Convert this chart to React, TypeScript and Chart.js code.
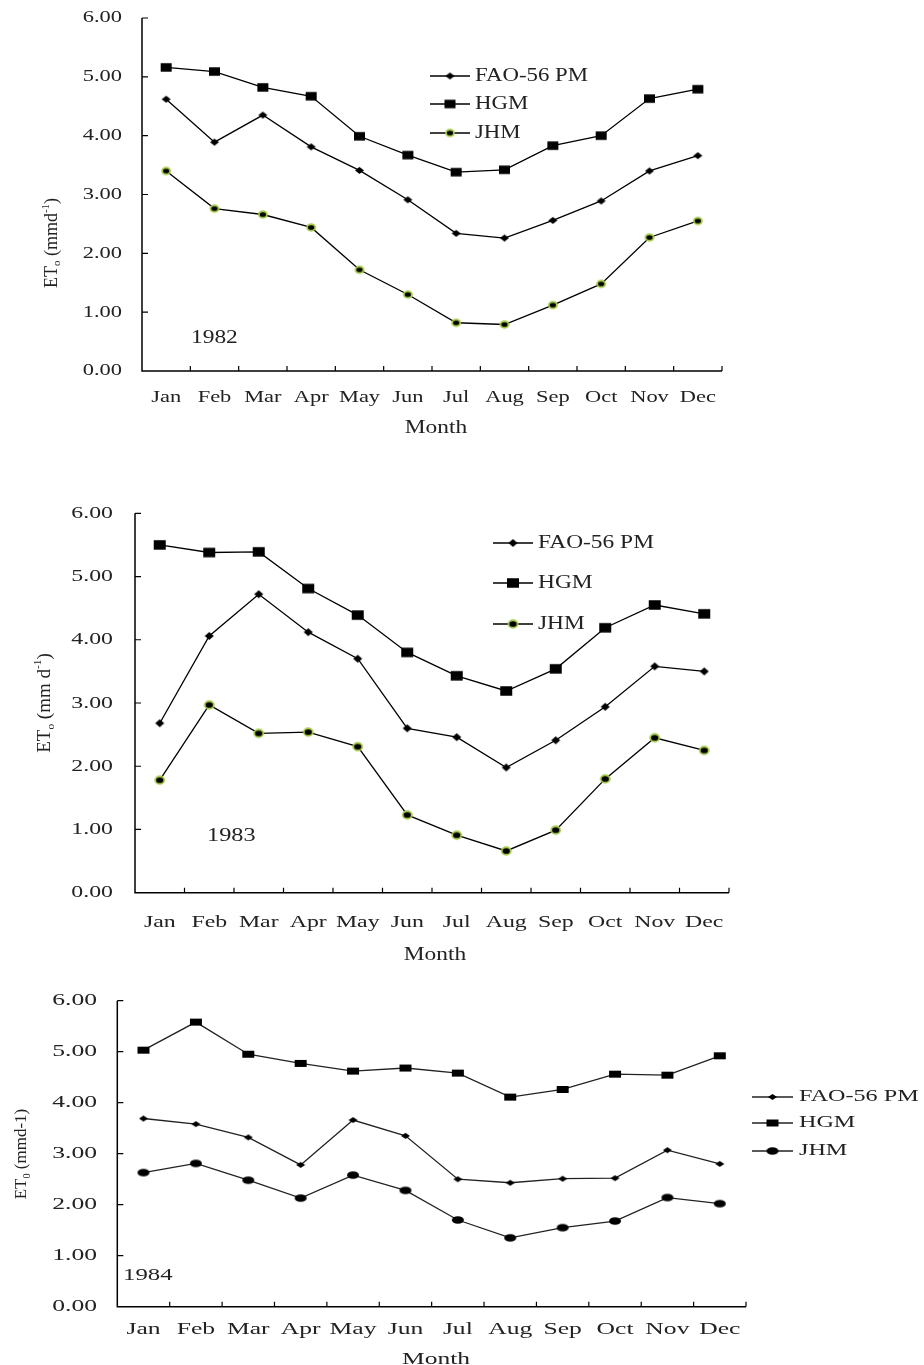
import { useEffect, useRef } from 'react';
import { Chart, registerables } from 'chart.js';

Chart.register(...registerables);

// ---------- data ----------
const MONTHS = ['Jan', 'Feb', 'Mar', 'Apr', 'May', 'Jun', 'Jul', 'Aug', 'Sep', 'Oct', 'Nov', 'Dec'];
const SERIES_LABELS = ['FAO-56 PM', 'HGM', 'JHM'];
const Y_MIN = 0;
const Y_MAX = 6;
const Y_STEP = 1;
const X_TITLE = 'Month';

const FAO_1982 = [4.62, 3.89, 4.35, 3.81, 3.41, 2.91, 2.34, 2.26, 2.56, 2.89, 3.40, 3.66];
const HGM_1982 = [5.16, 5.09, 4.82, 4.67, 3.99, 3.67, 3.38, 3.42, 3.83, 4.00, 4.63, 4.79];
const JHM_1982 = [3.40, 2.76, 2.66, 2.44, 1.72, 1.30, 0.82, 0.79, 1.12, 1.48, 2.27, 2.55];

const FAO_1983 = [2.68, 4.06, 4.72, 4.12, 3.70, 2.60, 2.46, 1.98, 2.41, 2.94, 3.58, 3.50];
const HGM_1983 = [5.50, 5.38, 5.39, 4.81, 4.39, 3.80, 3.43, 3.19, 3.54, 4.19, 4.55, 4.41];
const JHM_1983 = [1.78, 2.97, 2.52, 2.54, 2.31, 1.23, 0.91, 0.66, 0.99, 1.80, 2.45, 2.25];

const FAO_1984 = [3.69, 3.58, 3.32, 2.78, 3.66, 3.35, 2.50, 2.43, 2.51, 2.52, 3.07, 2.80];
const HGM_1984 = [5.03, 5.58, 4.95, 4.77, 4.62, 4.68, 4.58, 4.11, 4.26, 4.56, 4.54, 4.92];
const JHM_1984 = [2.63, 2.81, 2.48, 2.13, 2.58, 2.28, 1.70, 1.35, 1.55, 1.68, 2.14, 2.02];

const FONT = "'Liberation Serif', 'Times New Roman', serif";
const PAGE_W = 924;

type Part = { t: string; s: number; dy: number };
type MarkerSpec = { kind: 'square' | 'diamond' | 'circle'; w: number; h: number; ring?: string };

interface Cfg {
  year: string;
  series: number[][];
  top: number;
  height: number;
  plot: { l: number; t: number; r: number; b: number };
  lineColor: string;
  textColor: string;
  tickFont: number;
  tickScale: number;
  yLabelRight: number;
  xLabelY: number;
  monthX: number;
  monthY: number;
  monthFont: number;
  monthScale: number;
  yearPos: { x: number; y: number; font: number; scale: number };
  legend: { x1: number; x2: number; textX: number; ys: number[]; font: number; scale: number };
  title: { x: number; y: number; font: number; parts: Part[] };
  markers: MarkerSpec[];
}

const GREEN = '#a4c94a';

const CHARTS: Cfg[] = [
  {
    year: '1982',
    series: [FAO_1982, HGM_1982, JHM_1982],
    top: 0,
    height: 470,
    plot: { l: 142, t: 18, r: 722, b: 371 },
    lineColor: '#000',
    textColor: '#222',
    tickFont: 17,
    tickScale: 1.32,
    yLabelRight: 122,
    xLabelY: 398,
    monthX: 436,
    monthY: 428,
    monthFont: 18,
    monthScale: 1.3,
    yearPos: { x: 191, y: 338, font: 18, scale: 1.3 },
    legend: { x1: 430, x2: 470, textX: 475, ys: [76, 104, 133], font: 19, scale: 1.2 },
    title: {
      x: 52, y: 243, font: 18,
      parts: [
        { t: 'ET', s: 1, dy: 0 },
        { t: 'o', s: 0.6, dy: 0.3 },
        { t: ' (mmd', s: 1, dy: 0 },
        { t: '-1', s: 0.6, dy: -0.35 },
        { t: ')', s: 1, dy: 0 },
      ],
    },
    markers: [
      { kind: 'diamond', w: 9, h: 7 },
      { kind: 'square', w: 11, h: 8.5 },
      { kind: 'circle', w: 8, h: 6.5, ring: GREEN },
    ],
  },
  {
    year: '1983',
    series: [FAO_1983, HGM_1983, JHM_1983],
    top: 490,
    height: 480,
    plot: { l: 135, t: 513.3, r: 729, b: 892.7 },
    lineColor: '#000',
    textColor: '#222',
    tickFont: 17.5,
    tickScale: 1.36,
    yLabelRight: 113,
    xLabelY: 922,
    monthX: 435,
    monthY: 955,
    monthFont: 18,
    monthScale: 1.3,
    yearPos: { x: 207, y: 836, font: 18, scale: 1.35 },
    legend: { x1: 493, x2: 533, textX: 538, ys: [543, 583, 624], font: 19.5, scale: 1.2 },
    title: {
      x: 45, y: 703, font: 19,
      parts: [
        { t: 'ET', s: 1, dy: 0 },
        { t: 'o', s: 0.6, dy: 0.3 },
        { t: ' (mm d', s: 1, dy: 0 },
        { t: '-1', s: 0.6, dy: -0.35 },
        { t: ')', s: 1, dy: 0 },
      ],
    },
    markers: [
      { kind: 'diamond', w: 9, h: 8 },
      { kind: 'square', w: 12, h: 9.5 },
      { kind: 'circle', w: 9, h: 7.5, ring: GREEN },
    ],
  },
  {
    year: '1984',
    series: [FAO_1984, HGM_1984, JHM_1984],
    top: 975,
    height: 390,
    plot: { l: 117.3, t: 1000.7, r: 746, b: 1306.7 },
    lineColor: '#222',
    textColor: '#222',
    tickFont: 16,
    tickScale: 1.6,
    yLabelRight: 97,
    xLabelY: 1330,
    monthX: 436,
    monthY: 1360,
    monthFont: 17,
    monthScale: 1.5,
    yearPos: { x: 123, y: 1276, font: 16, scale: 1.55 },
    legend: { x1: 752, x2: 793, textX: 799, ys: [1097, 1123, 1151], font: 17, scale: 1.42 },
    title: {
      x: 22, y: 1154, font: 17,
      parts: [
        { t: 'ET', s: 1, dy: 0 },
        { t: '0', s: 0.6, dy: 0.3 },
        { t: ' (mmd-1)', s: 1, dy: 0 },
      ],
    },
    markers: [
      { kind: 'diamond', w: 9, h: 6 },
      { kind: 'square', w: 12, h: 7 },
      { kind: 'circle', w: 12, h: 7.5 },
    ],
  },
];

function makeMarker(m: MarkerSpec): HTMLCanvasElement {
  const pad = 2;
  const c = document.createElement('canvas');
  c.width = Math.ceil(m.w + pad * 2);
  c.height = Math.ceil(m.h + pad * 2);
  const ctx = c.getContext('2d') as CanvasRenderingContext2D;
  const cx = c.width / 2;
  const cy = c.height / 2;
  ctx.fillStyle = '#000';
  if (m.kind === 'square') {
    ctx.fillRect(cx - m.w / 2, cy - m.h / 2, m.w, m.h);
  } else if (m.kind === 'diamond') {
    ctx.beginPath();
    ctx.moveTo(cx, cy - m.h / 2);
    ctx.lineTo(cx + m.w / 2, cy);
    ctx.lineTo(cx, cy + m.h / 2);
    ctx.lineTo(cx - m.w / 2, cy);
    ctx.closePath();
    ctx.fill();
  } else {
    ctx.beginPath();
    ctx.ellipse(cx, cy, m.w / 2, m.h / 2, 0, 0, Math.PI * 2);
    ctx.fill();
    if (m.ring) {
      ctx.lineWidth = 1.8;
      ctx.strokeStyle = m.ring;
      ctx.stroke();
    }
  }
  return c;
}

function drawText(
  ctx: CanvasRenderingContext2D,
  text: string,
  x: number,
  y: number,
  size: number,
  sx: number,
  align: 'left' | 'center' | 'right',
  color: string,
) {
  ctx.save();
  ctx.font = `${size}px ${FONT}`;
  ctx.fillStyle = color;
  ctx.textBaseline = 'middle';
  ctx.textAlign = 'left';
  const w = ctx.measureText(text).width * sx;
  let left = x;
  if (align === 'center') left = x - w / 2;
  else if (align === 'right') left = x - w;
  ctx.translate(left, y);
  ctx.scale(sx, 1);
  ctx.fillText(text, 0, 0);
  ctx.restore();
}

function EtChart({ cfg }: { cfg: Cfg }) {
  const ref = useRef<HTMLCanvasElement | null>(null);

  useEffect(() => {
    const canvas = ref.current;
    if (!canvas) return;
    const markers = cfg.markers.map(makeMarker);
    const off = cfg.top;

    const decor = {
      id: 'decor',
      beforeDatasetsDraw(chart: any) {
        const ctx: CanvasRenderingContext2D = chart.ctx;
        const a = chart.chartArea;
        const xs = chart.scales.x;
        const ys = chart.scales.y;
        ctx.save();
        ctx.strokeStyle = '#000';
        ctx.lineWidth = 1.5;
        ctx.beginPath();
        ctx.moveTo(a.left, a.top);
        ctx.lineTo(a.left, a.bottom);
        ctx.lineTo(a.right, a.bottom);
        ctx.stroke();
        ctx.lineWidth = 1.2;
        ctx.beginPath();
        ys.ticks.forEach((t: any) => {
          const y = ys.getPixelForValue(t.value);
          if (t.value === Y_MIN) return;
          ctx.moveTo(a.left, y);
          ctx.lineTo(a.left + 6, y);
        });
        for (let i = 0; i < MONTHS.length; i++) {
          const x = i < MONTHS.length - 1
            ? (xs.getPixelForValue(i) + xs.getPixelForValue(i + 1)) / 2
            : a.right;
          ctx.moveTo(x, a.bottom);
          ctx.lineTo(x, a.bottom - 5);
        }
        ctx.stroke();
        ctx.restore();
      },
      afterDraw(chart: any) {
        const ctx: CanvasRenderingContext2D = chart.ctx;
        const xs = chart.scales.x;
        const ys = chart.scales.y;
        // y tick labels
        ys.ticks.forEach((t: any) => {
          const y = ys.getPixelForValue(t.value);
          drawText(ctx, Number(t.value).toFixed(2), cfg.yLabelRight, y, cfg.tickFont, cfg.tickScale, 'right', cfg.textColor);
        });
        // x tick labels
        MONTHS.forEach((m, i) => {
          drawText(ctx, m, xs.getPixelForValue(i), cfg.xLabelY - off, cfg.tickFont, cfg.tickScale, 'center', cfg.textColor);
        });
        // x title
        drawText(ctx, X_TITLE, cfg.monthX, cfg.monthY - off, cfg.monthFont, cfg.monthScale, 'center', cfg.textColor);
        // year label
        drawText(ctx, cfg.year, cfg.yearPos.x, cfg.yearPos.y - off, cfg.yearPos.font, cfg.yearPos.scale, 'left', cfg.textColor);
        // y title (rotated, with sub/superscripts)
        const tt = cfg.title;
        ctx.save();
        ctx.fillStyle = cfg.textColor;
        ctx.textBaseline = 'middle';
        ctx.textAlign = 'left';
        let total = 0;
        const widths = tt.parts.map((p) => {
          ctx.font = `${tt.font * p.s}px ${FONT}`;
          const w = ctx.measureText(p.t).width;
          total += w;
          return w;
        });
        ctx.translate(tt.x, tt.y - off);
        ctx.rotate(-Math.PI / 2);
        let cx = -total / 2;
        tt.parts.forEach((p, i) => {
          ctx.font = `${tt.font * p.s}px ${FONT}`;
          ctx.fillText(p.t, cx, p.dy * tt.font);
          cx += widths[i];
        });
        ctx.restore();
        // legend
        const lg = cfg.legend;
        chart.data.datasets.forEach((ds: any, i: number) => {
          const y = lg.ys[i] - off;
          ctx.save();
          ctx.strokeStyle = cfg.lineColor;
          ctx.lineWidth = 1.3;
          ctx.beginPath();
          ctx.moveTo(lg.x1, y);
          ctx.lineTo(lg.x2, y);
          ctx.stroke();
          const mk = markers[i];
          ctx.drawImage(mk, (lg.x1 + lg.x2) / 2 - mk.width / 2, y - mk.height / 2);
          ctx.restore();
          drawText(ctx, ds.label, lg.textX, y, lg.font, lg.scale, 'left', cfg.textColor);
        });
      },
    };

    const chart = new Chart(canvas, {
      type: 'line',
      data: {
        labels: MONTHS,
        datasets: SERIES_LABELS.map((label, i) => ({
          label,
          data: cfg.series[i],
          borderColor: cfg.lineColor,
          backgroundColor: '#000',
          borderWidth: 1.3,
          pointStyle: markers[i] as any,
          pointRadius: 4,
          tension: 0,
          fill: false,
        })),
      },
      options: {
        responsive: false,
        animation: false,
        devicePixelRatio: 1,
        layout: {
          padding: {
            left: cfg.plot.l,
            top: cfg.plot.t - off,
            right: PAGE_W - cfg.plot.r,
            bottom: cfg.height - (cfg.plot.b - off),
          },
        },
        plugins: {
          legend: { display: false },
          title: { display: false },
          tooltip: { enabled: false },
        },
        scales: {
          x: {
            type: 'category',
            offset: true,
            grid: { display: false, drawTicks: false },
            border: { display: false },
            ticks: { display: false },
            afterFit: (s: any) => { s.height = 0; },
          },
          y: {
            min: Y_MIN,
            max: Y_MAX,
            grid: { display: false, drawTicks: false },
            border: { display: false },
            ticks: { display: false, stepSize: Y_STEP },
            afterFit: (s: any) => { s.width = 0; },
          },
        },
      },
      plugins: [decor],
    });
    return () => chart.destroy();
  }, [cfg]);

  return (
    <canvas
      ref={ref}
      width={PAGE_W}
      height={cfg.height}
      style={{ position: 'absolute', left: 0, top: cfg.top, width: PAGE_W, height: cfg.height, display: 'block' }}
    />
  );
}

export default function App() {
  return (
    <div style={{ position: 'absolute', left: 0, top: 0, width: PAGE_W, height: 1365, background: '#fff', overflow: 'hidden' }}>
      {CHARTS.map((c) => (
        <EtChart key={c.year} cfg={c} />
      ))}
    </div>
  );
}
